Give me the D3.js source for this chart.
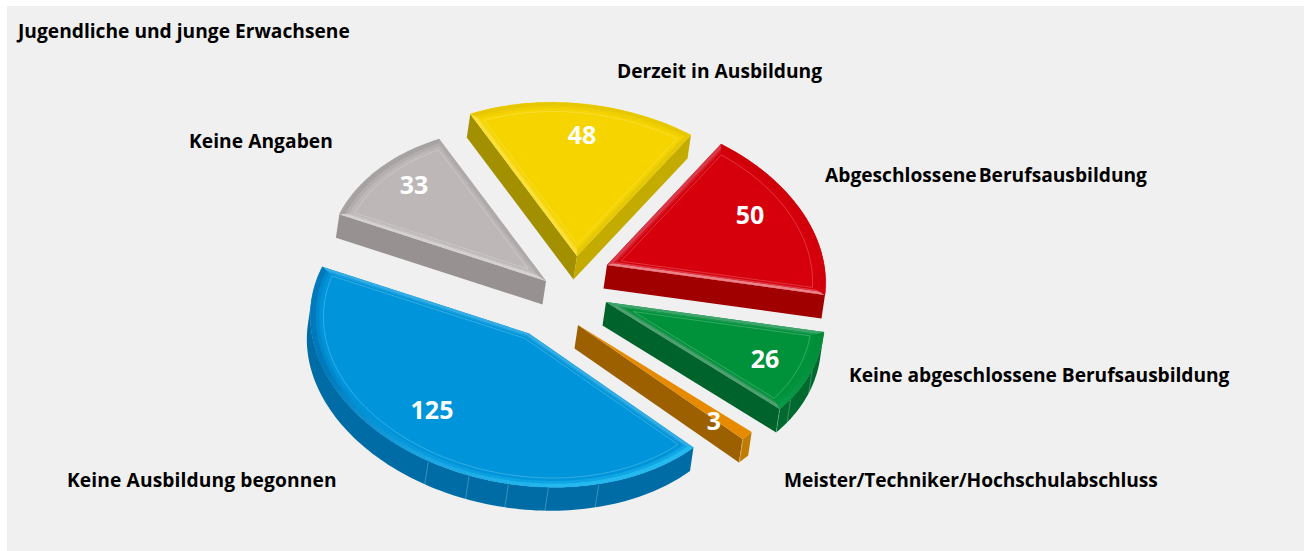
<!DOCTYPE html>
<html><head><meta charset="utf-8">
<script src="https://cdn.jsdelivr.net/npm/d3@7"></script>
<style>html,body{margin:0;background:#fff}svg{display:block}text{font-family:"Open Sans",sans-serif;font-weight:700}</style>
</head><body><div id="c"></div>
<script>
const title = "Jugendliche und junge Erwachsene";
const categories = ["Abgeschlossene Berufsausbildung","Keine abgeschlossene Berufsausbildung","Meister/Techniker/Hochschulabschluss","Keine Ausbildung begonnen","Keine Angaben","Derzeit in Ausbildung"];
const values = [50,26,3,125,33,48];
// layout
const W=1304,H=551;
const apexes=[[607,265],[606,302],[578,325],[529,333.5],[546,281],[577,256]];
const labelPos=[[825,182],[849,382],[784,487],[67,487],[189,148],[617,78]];
const labelSpacing=[0,-0.05,-0.1,0.12,0.05,0];
const valuePos=[[750,224],[765,368],[714,430],[432,419],[414,194],[582,144]];
const axisA=[114,-121], axisB=[186.6,94.8], depth=[-3.5,23.5];
const styles=[
 {top:"#d6000d",wallA:"#a00000",wallB:"#a00000",arc:"#b30000",bA:"#ea8088",bB:"#d83a4a",bArc:["#cc0008","#d2000c"]},
 {top:"#00923b",wallA:"#00632b",wallB:"#00632b",arc:"#006a2e",bA:"#4f9f70",bB:"#3fa56c",bArc:["#008a38","#0a9a48"]},
 {top:"#e68a00",wallA:"#c07c00",wallB:"#9c6000",arc:"#c07c00",bA:"#e68a00",bB:"#e8a040",bArc:["#f09a20","#f09a20"]},
 {top:"#0095da",wallA:"#006ca5",wallB:"#006ca5",arc:"#006ca5",bA:"#35ace3",bB:"#35ace3",bArc:["#25baf0","#25baf0","#1aa5e2","#0078ba","#0078ba"]},
 {top:"#bdb8b7",wallA:"#979291",wallB:"#979291",arc:"#979291",bA:"#aeaaa9",bB:"#d4d1cf",bArc:["#a6a2a1","#a6a2a1"]},
 {top:"#f5d400",wallA:"#a39000",wallB:"#c4ab00",arc:"#c4ab00",bA:"#e6c80a",bB:"#fbe03c",bArc:["#e6c700","#e6c700"]}
];
// seam angles on the side walls, degrees
const seams=[[],[78,91,96],[99.6],[130,143.5,154,164.5,176],[],[]];
const svg=d3.select("#c").append("svg").attr("width",W).attr("height",H);
svg.append("rect").attr("x",7).attr("y",6).attr("width",W-7).attr("height",H-6).attr("fill","#f0f0f0");
const pie=d3.pie().sort(null).startAngle(0).endAngle(2*Math.PI);
const arcs=pie(values);
const proj=(a,r)=>[axisA[0]*r*Math.cos(a)+axisB[0]*r*Math.sin(a),axisA[1]*r*Math.cos(a)+axisB[1]*r*Math.sin(a)];
const line=d3.line();
const add=(p,o)=>[p[0]+o[0],p[1]+o[1]];
const arcPts=(a0,a1,r,n)=>d3.range(n+1).map(i=>proj(a0+(a1-a0)*i/n,r));
function inset(a0,a1,d,rho){
  const half=(a1-a0)/2, mid=a0+half;
  const ang=Math.asin(d/rho);
  return {apex:proj(mid,d/Math.sin(half)),pts:n=>arcPts(a0+ang,a1-ang,rho,n)};
}
const order=[4,5,0,1,2,3];
const g=svg.append("g");
order.forEach(i=>{
  const s=arcs[i], st=styles[i], o=apexes[i];
  const G=g.append("g").attr("transform",`translate(${o})`);
  const span=s.endAngle-s.startAngle;
  const n=Math.max(6,Math.round(span*40));
  const outer=arcPts(s.startAngle,s.endAngle,1,n);
  const apex=[0,0];
  const wall=pts=>{const low=pts.map(p=>add(p,depth)).reverse();return line([...pts,...low])+"Z";};
  const vis=(p,q)=>{const nx=q[1]-p[1],ny=-(q[0]-p[0]);return nx*depth[0]+ny*depth[1]>0;};
  if(vis(apex,outer[0])) G.append("path").attr("d",wall([apex,outer[0]])).attr("fill",st.wallA);
  if(vis(outer[n],apex)) G.append("path").attr("d",wall([outer[n],apex])).attr("fill",st.wallB);
  const visArc=outer.filter((p,k)=>(k<n&&vis(p,outer[k+1]))||(k>0&&vis(outer[k-1],p)));
  if(visArc.length>1) G.append("path").attr("d",wall(visArc)).attr("fill",st.arc);
  seams[i].forEach(deg=>{
    const p=proj(deg*Math.PI/180,1);
    G.append("path").attr("d",line([add(p,[0,1]),add(p,depth)])).attr("stroke","#fff").attr("stroke-opacity",.3).attr("stroke-width",.8).attr("fill","none");
  });
  G.append("path").attr("d",line([apex,...outer])+"Z").attr("fill",st.top);
  if(span>0.2){
    const ci=d3.piecewise(d3.interpolateRgb,st.bArc);
    const bands=[{d0:0,r0:1,d1:.018,r1:.975,mix:0},{d0:.018,r0:.975,d1:.026,r1:.96,mix:.55}];
    bands.forEach(b=>{
      const mixc=c=>d3.interpolateRgb(c,st.top)(b.mix);
      const A=b.d0>0?inset(s.startAngle,s.endAngle,b.d0,b.r0):{apex:[0,0],pts:m=>arcPts(s.startAngle,s.endAngle,b.r0,m)};
      const B=inset(s.startAngle,s.endAngle,b.d1,b.r1);
      const a=A.pts(n), c=B.pts(n);
      G.append("path").attr("d",line([A.apex,a[0],c[0],B.apex])+"Z").attr("fill",mixc(st.bB));
      G.append("path").attr("d",line([A.apex,a[n],c[n],B.apex])+"Z").attr("fill",mixc(st.bA));
      for(let k=0;k<n;k++){
        const col=mixc(ci(k/n));
        G.append("path").attr("d",line([a[k],a[k+1],c[k+1],c[k]])+"Z").attr("fill",col).attr("stroke",col).attr("stroke-width",.3);
      }
    });
    const I=inset(s.startAngle,s.endAngle,.038,.94);
    G.append("path").attr("d",line([I.apex,...I.pts(n)])+"Z").attr("fill","none").attr("stroke","#fff").attr("stroke-opacity",.3).attr("stroke-width",.7);
  }
});
const fs=19.2;
svg.append("text").attr("x",18).attr("y",38).attr("font-size",fs).attr("fill","#000").text(title);
categories.forEach((c,i)=>{
  const t=svg.append("text").attr("x",labelPos[i][0]).attr("y",labelPos[i][1]).attr("font-size",fs).attr("fill","#000").style("letter-spacing",labelSpacing[i]+"px").text(c);
  if(i===0) t.style("word-spacing","-3px");
});
values.forEach((v,i)=>svg.append("text").attr("x",valuePos[i][0]).attr("y",valuePos[i][1]).attr("text-anchor","middle").attr("font-size",25).attr("fill","#fff").text(v));
</script></body></html>
